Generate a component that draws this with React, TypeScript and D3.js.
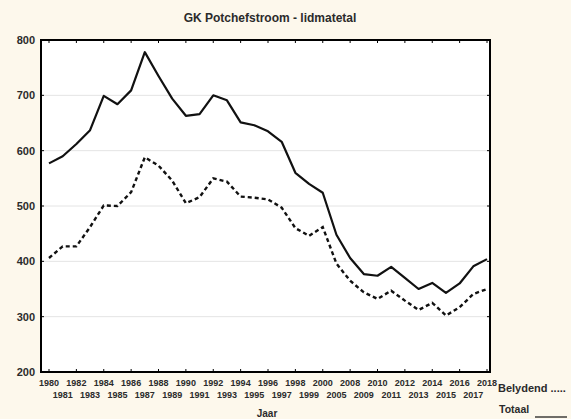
import * as d3 from "d3";

const years = [
  "1980", "1981", "1982", "1983", "1984", "1985", "1986", "1987", "1988", "1989",
  "1990", "1991", "1992", "1993", "1994", "1995", "1996", "1997", "1998", "1999",
  "2000", "2005", "2008", "2009", "2010", "2011", "2012", "2013", "2014", "2015",
  "2016", "2017", "2018",
];

// Totaal (solid)
const totaal = [
  577, 590, 612, 637, 699, 684, 709, 778, 735, 694,
  663, 666, 700, 691, 651, 646, 635, 616, 560, 540,
  524, 448, 406, 377, 374, 390, 370, 350, 361, 343,
  360, 391, 404,
];

// Belydend (dashed)
const belydend = [
  406, 427, 427, 462, 501, 500, 525, 588, 573, 546,
  505, 516, 550, 544, 517, 515, 512, 497, 460, 446,
  462, 396, 365, 344, 332, 347, 329, 312, 325, 302,
  317, 341, 350,
];

const yTicks = [200, 300, 400, 500, 600, 700, 800];

export default function App() {
  const width = 571;
  const height = 419;
  const left = 41;
  const right = 490;
  const top = 40;
  const bottom = 372;

  const x = d3.scalePoint<string>().domain(years).range([49, 487]);
  const y = d3.scaleLinear().domain([200, 800]).range([bottom, top]);

  const line = d3
    .line<number>()
    .x((_, i) => x(years[i]) as number)
    .y(d => y(d));

  const font = "Liberation Sans, Arial, sans-serif";
  const txt = "#2b2b2b";

  return (
    <svg
      width={width}
      height={height}
      style={{ position: "absolute", left: 0, top: 0, background: "#fdf8ec" }}
    >
      {/* title */}
      <text x={270} y={22} textAnchor="middle" fontSize="12" fontWeight="bold" fontFamily={font} fill={txt}>
        GK Potchefstroom - lidmatetal
      </text>

      {/* plot area */}
      <rect x={left} y={top} width={right - left} height={bottom - top} fill="#ffffff" />

      {/* grid + y labels */}
      {yTicks.map(t => (
        <g key={t}>
          {t > 200 && t < 800 && (
            <line x1={left} x2={right} y1={y(t)} y2={y(t)} stroke="#e4e4e4" strokeWidth={1} />
          )}
          <line x1={left} x2={left + 3} y1={y(t)} y2={y(t)} stroke="#000" />
          <line x1={right - 3} x2={right} y1={y(t)} y2={y(t)} stroke="#000" />
          <text x={35} y={y(t) + 4} textAnchor="end" fontSize="11" fontWeight="bold" fontFamily={font} fill={txt}>
            {t}
          </text>
        </g>
      ))}

      {/* x ticks + labels */}
      {years.map((yr, i) => (
        <g key={yr}>
          {i % 2 === 0 && (
            <>
              <line x1={x(yr)} x2={x(yr)} y1={bottom} y2={bottom - 3} stroke="#000" />
              <line x1={x(yr)} x2={x(yr)} y1={top} y2={top + 3} stroke="#000" />
            </>
          )}
          <text
            x={x(yr)}
            y={i % 2 === 0 ? 386 : 397.5}
            textAnchor="middle"
            fontSize="9"
            fontWeight="bold"
            fontFamily={font}
            fill={txt}
          >
            {yr}
          </text>
        </g>
      ))}

      {/* lines */}
      <path d={line(belydend) ?? ""} fill="none" stroke="#111" strokeWidth={2.4} strokeDasharray="4,3" />
      <path d={line(totaal) ?? ""} fill="none" stroke="#111" strokeWidth={2.2} strokeLinejoin="round" />

      {/* border */}
      <rect x={left} y={top} width={right - left} height={bottom - top} fill="none" stroke="#000" strokeWidth={2} />

      {/* axis title */}
      <text x={267} y={417} textAnchor="middle" fontSize="10" fontWeight="bold" fontFamily={font} fill={txt}>
        Jaar
      </text>

      {/* legend */}
      <text x={498} y={392} fontSize="11" fontWeight="bold" fontFamily={font} fill={txt}>
        Belydend .....
      </text>
      <text x={499} y={413} fontSize="10.5" fontWeight="bold" fontFamily={font} fill={txt}>
        Totaal
      </text>
      <line x1={535} x2={567} y1={417} y2={417} stroke="#111" strokeWidth={1.2} />
    </svg>
  );
}
